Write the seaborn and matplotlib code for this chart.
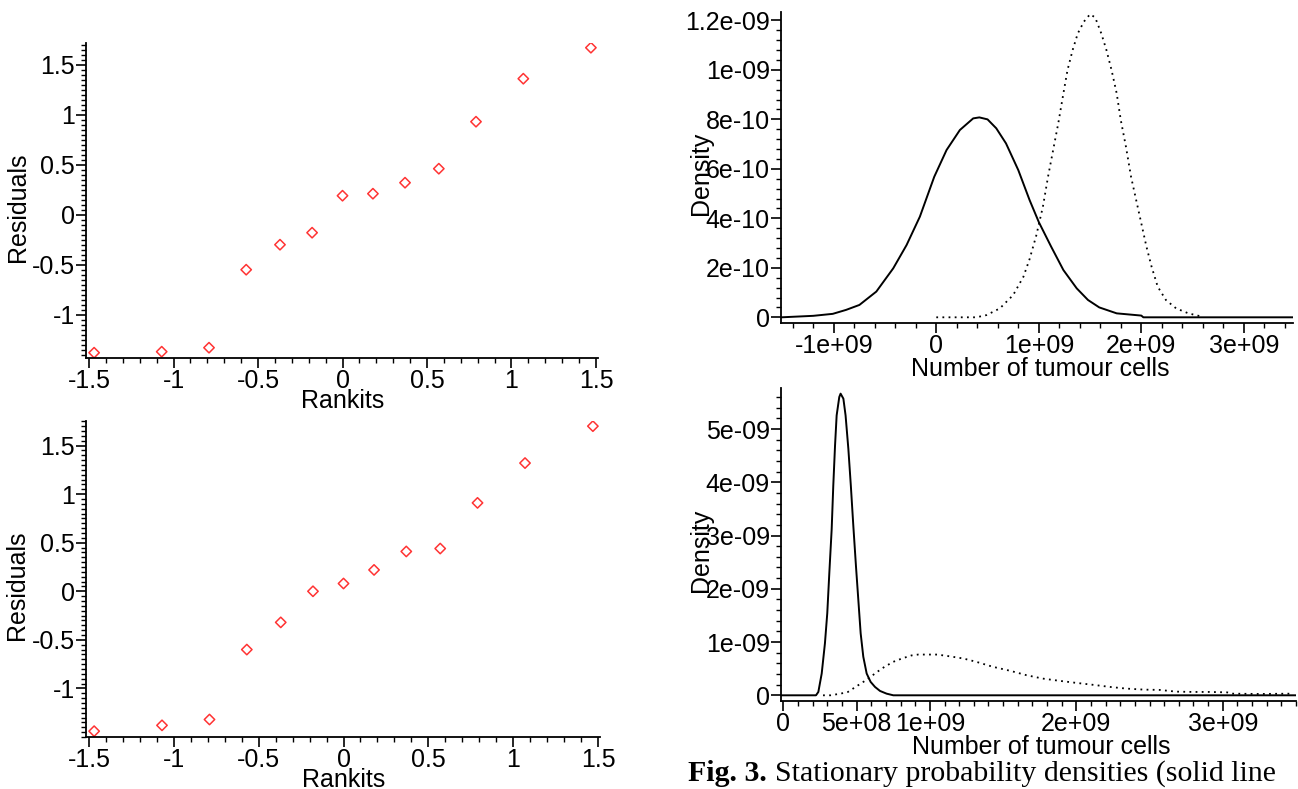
import numpy as np
import pandas as pd
import seaborn as sns
import matplotlib
matplotlib.use('Agg')
import matplotlib.pyplot as plt
from matplotlib import font_manager
from matplotlib.ticker import MultipleLocator

# %% Data

# normal QQ plots of the residuals (two fits)
rankits = [-1.47, -1.07, -0.79, -0.57, -0.37, -0.18, 0.0,
           0.18, 0.37, 0.57, 0.79, 1.07, 1.47]
resid_top = [-1.38, -1.37, -1.33, -0.55, -0.30, -0.18, 0.19,
             0.21, 0.32, 0.46, 0.93, 1.36, 1.67]
resid_bot = [-1.44, -1.38, -1.32, -0.60, -0.32, 0.00, 0.08,
             0.22, 0.41, 0.44, 0.91, 1.32, 1.70]

# stationary densities, x in 1e9 cells, y in 1e-9
top_solid_x = [-1.51, -1.20, -1.01, -0.88, -0.75, -0.585, -0.42, -0.29,
               -0.16, -0.02, 0.10, 0.23, 0.36, 0.42, 0.50, 0.585, 0.68,
               0.80, 0.91, 1.00, 1.12, 1.24, 1.37, 1.48, 1.59, 1.76, 2.00,
               2.02, 3.48]
top_solid_y = [0.0, 0.006, 0.014, 0.030, 0.050, 0.104, 0.198, 0.292,
               0.407, 0.568, 0.676, 0.757, 0.804, 0.808, 0.800, 0.764, 0.703,
               0.595, 0.474, 0.385, 0.286, 0.191, 0.117, 0.070, 0.040, 0.016,
               0.007, 0.0, 0.0]
top_dot_x = [0.00, 0.39, 0.49, 0.62, 0.75, 0.85, 0.91, 0.975, 1.04, 1.09,
             1.14, 1.19, 1.24, 1.28, 1.33, 1.38, 1.44, 1.50, 1.55, 1.61,
             1.66, 1.71, 1.76, 1.80, 1.85, 1.90, 1.95, 2.00, 2.05, 2.10,
             2.16, 2.24, 2.34, 2.46, 2.57, 2.59]
top_dot_y = [0.0, 0.0, 0.009, 0.036, 0.090, 0.164, 0.235, 0.330, 0.447,
             0.568, 0.676, 0.784, 0.905, 0.999, 1.080, 1.147, 1.195, 1.225,
             1.212, 1.147, 1.080, 0.999, 0.905, 0.797, 0.690, 0.568, 0.474,
             0.380, 0.286, 0.205, 0.124, 0.070, 0.036, 0.016, 0.005, 0.0]

bot_solid_x = [-0.017, 0.222, 0.238, 0.261, 0.283, 0.299, 0.313, 0.329,
               0.340, 0.352, 0.363, 0.381, 0.390, 0.409, 0.424, 0.443, 0.460,
               0.477, 0.495, 0.511, 0.527, 0.545, 0.568, 0.595, 0.625, 0.659,
               0.704, 0.750, 3.50]
bot_solid_y = [0.0, 0.0, 0.063, 0.409, 0.975, 1.542, 2.297, 3.115,
               3.933, 4.688, 5.255, 5.601, 5.664, 5.570, 5.255, 4.626, 3.933,
               3.178, 2.423, 1.794, 1.164, 0.724, 0.409, 0.252, 0.157, 0.082,
               0.031, 0.0, 0.0]
bot_dot_x = [0.27, 0.32, 0.39, 0.44, 0.51, 0.57, 0.64, 0.69, 0.75, 0.81,
             0.875, 0.92, 1.05, 1.14, 1.23, 1.32, 1.43, 1.55, 1.66, 1.77,
             1.89, 2.00, 2.12, 2.23, 2.34, 2.46, 2.57, 2.68, 2.80, 2.91,
             3.03, 3.06, 3.25, 3.48]
bot_dot_y = [0.0, 0.0, 0.031, 0.063, 0.189, 0.296, 0.440, 0.535, 0.629,
             0.692, 0.749, 0.765, 0.765, 0.730, 0.690, 0.626, 0.535, 0.459,
             0.377, 0.314, 0.270, 0.233, 0.195, 0.157, 0.126, 0.107, 0.101,
             0.069, 0.063, 0.063, 0.055, 0.031, 0.025, 0.031]

# tick labels as printed
rk_ticks = [-1.5, -1, -0.5, 0, 0.5, 1, 1.5]
rk_labels = ['-1.5', '-1', '-0.5', '0', '0.5', '1', '1.5']
res_ticks = [-1, -0.5, 0, 0.5, 1, 1.5]
res_labels = ['-1', '-0.5', '0', '0.5', '1', '1.5']
top_xticks = [-1e9, 0, 1e9, 2e9, 3e9]
top_xlabels = ['-1e+09', '0', '1e+09', '2e+09', '3e+09']
top_yticks = [0, 2e-10, 4e-10, 6e-10, 8e-10, 1e-9, 1.2e-9]
top_ylabels = ['0', '2e-10', '4e-10', '6e-10', '8e-10', '1e-09', '1.2e-09']
bot_xticks = [0, 5e8, 1e9, 2e9, 3e9]
bot_xlabels = ['0', '5e+08', '1e+09', '2e+09', '3e+09']
bot_yticks = [0, 1e-9, 2e-9, 3e-9, 4e-9, 5e-9]
bot_ylabels = ['0', '1e-09', '2e-09', '3e-09', '4e-09', '5e-09']

caption_bold = 'Fig. 3.'
caption_rest = 'Stationary probability densities (solid line'

# %% Style

sns.set_theme(style='ticks', rc={'axes.unicode_minus': False})
fnames = {f.name for f in font_manager.fontManager.ttflist}
if 'Liberation Sans Narrow' in fnames:
    plt.rcParams['font.family'] = ['Liberation Sans Narrow', 'Liberation Sans', 'DejaVu Sans']
    fs = 20
else:
    plt.rcParams['font.family'] = ['Liberation Sans', 'DejaVu Sans']
    fs = 18

W, H = 1298, 789
fig = plt.figure(figsize=(W / 100, H / 100), dpi=100)


def px_axes(l, t, r, b):
    return fig.add_axes([l / W, 1 - b / H, (r - l) / W, (b - t) / H])


def style_axes(ax):
    sns.despine(ax=ax)
    for s in ('left', 'bottom'):
        ax.spines[s].set_linewidth(1.3)
        ax.spines[s].set_color('black')
    ax.tick_params(which='major', length=7, width=1.2, color='black',
                   labelsize=fs, labelcolor='black', pad=1)
    ax.tick_params(which='minor', length=3.5, width=1.0, color='black')


# %% Residual plots

for resid, box, ylim in [(resid_top, (86, 43, 598, 358), (-1.433, 1.717)),
                         (resid_bot, (86, 421, 600, 737), (-1.50, 1.753))]:
    ax = px_axes(*box)
    df = pd.DataFrame({'Rankits': rankits, 'Residuals': resid})
    sns.scatterplot(data=df, x='Rankits', y='Residuals', ax=ax, marker='D',
                    s=28, color='#ff3333', facecolor='none',
                    edgecolor='#ff3333', linewidth=1.1)
    ax.set_xlim(-1.518, 1.512)
    ax.set_ylim(*ylim)
    ax.set_xticks(rk_ticks, rk_labels)
    ax.set_yticks(res_ticks, res_labels)
    ax.xaxis.set_minor_locator(MultipleLocator(0.1))
    ax.yaxis.set_minor_locator(MultipleLocator(0.05))
    style_axes(ax)
    ax.set_xlabel('Rankits', fontsize=fs, color='black')
    ax.set_ylabel('Residuals', fontsize=fs, color='black')
    ax.xaxis.set_label_coords(0.502, -0.098)
    ax.yaxis.set_label_coords(-0.11, 0.48)

# %% Density plots

for box, sx, sy, dx, dy, xlim, ylim, xt, xl, yt, yl, xmin, ymin in [
        ((781, 12, 1293, 323), top_solid_x, top_solid_y, top_dot_x, top_dot_y,
         (-1.515e9, 3.48e9), (-0.23e-10, 1.234e-9),
         top_xticks, top_xlabels, top_yticks, top_ylabels, 2e8, 4e-11),
        ((781, 388, 1296, 701), bot_solid_x, bot_solid_y, bot_dot_x, bot_dot_y,
         (-0.017e9, 3.50e9), (-0.107e-9, 5.77e-9),
         bot_xticks, bot_xlabels, bot_yticks, bot_ylabels, 1e8, 2e-10)]:
    ax = px_axes(*box)
    df_s = pd.DataFrame({'cells': np.array(sx) * 1e9, 'density': np.array(sy) * 1e-9})
    df_d = pd.DataFrame({'cells': np.array(dx) * 1e9, 'density': np.array(dy) * 1e-9})
    sns.lineplot(data=df_s, x='cells', y='density', ax=ax, color='black',
                 linewidth=1.4, estimator=None)
    sns.lineplot(data=df_d, x='cells', y='density', ax=ax, color='black',
                 linewidth=1.3, linestyle=(0, (1, 2.4)), estimator=None)
    ax.set_xlim(*xlim)
    ax.set_ylim(*ylim)
    ax.set_xticks(xt, xl)
    ax.set_yticks(yt, yl)
    ax.xaxis.set_minor_locator(MultipleLocator(xmin))
    ax.yaxis.set_minor_locator(MultipleLocator(ymin))
    style_axes(ax)
    ax.set_xlabel('Number of tumour cells', fontsize=fs, color='black')
    ax.set_ylabel('Density', fontsize=fs, color='black')
    ax.xaxis.set_label_coords(0.506, -0.11)
    ax.yaxis.set_label_coords(-0.133, 0.48)

# %% Caption

t1 = fig.text(688 / W, 1 - 781 / H, caption_bold, fontsize=21.5,
              family=['Liberation Serif', 'DejaVu Serif'], fontweight='bold',
              va='baseline', color='black')
fig.axes[-1].annotate(caption_rest, xy=(1, 0), xycoords=t1, xytext=(6, 0),
                      textcoords='offset points', fontsize=21.5,
                      family=['Liberation Serif', 'DejaVu Serif'],
                      va='bottom', color='black', annotation_clip=False)

fig.savefig('out.png', dpi=100)
